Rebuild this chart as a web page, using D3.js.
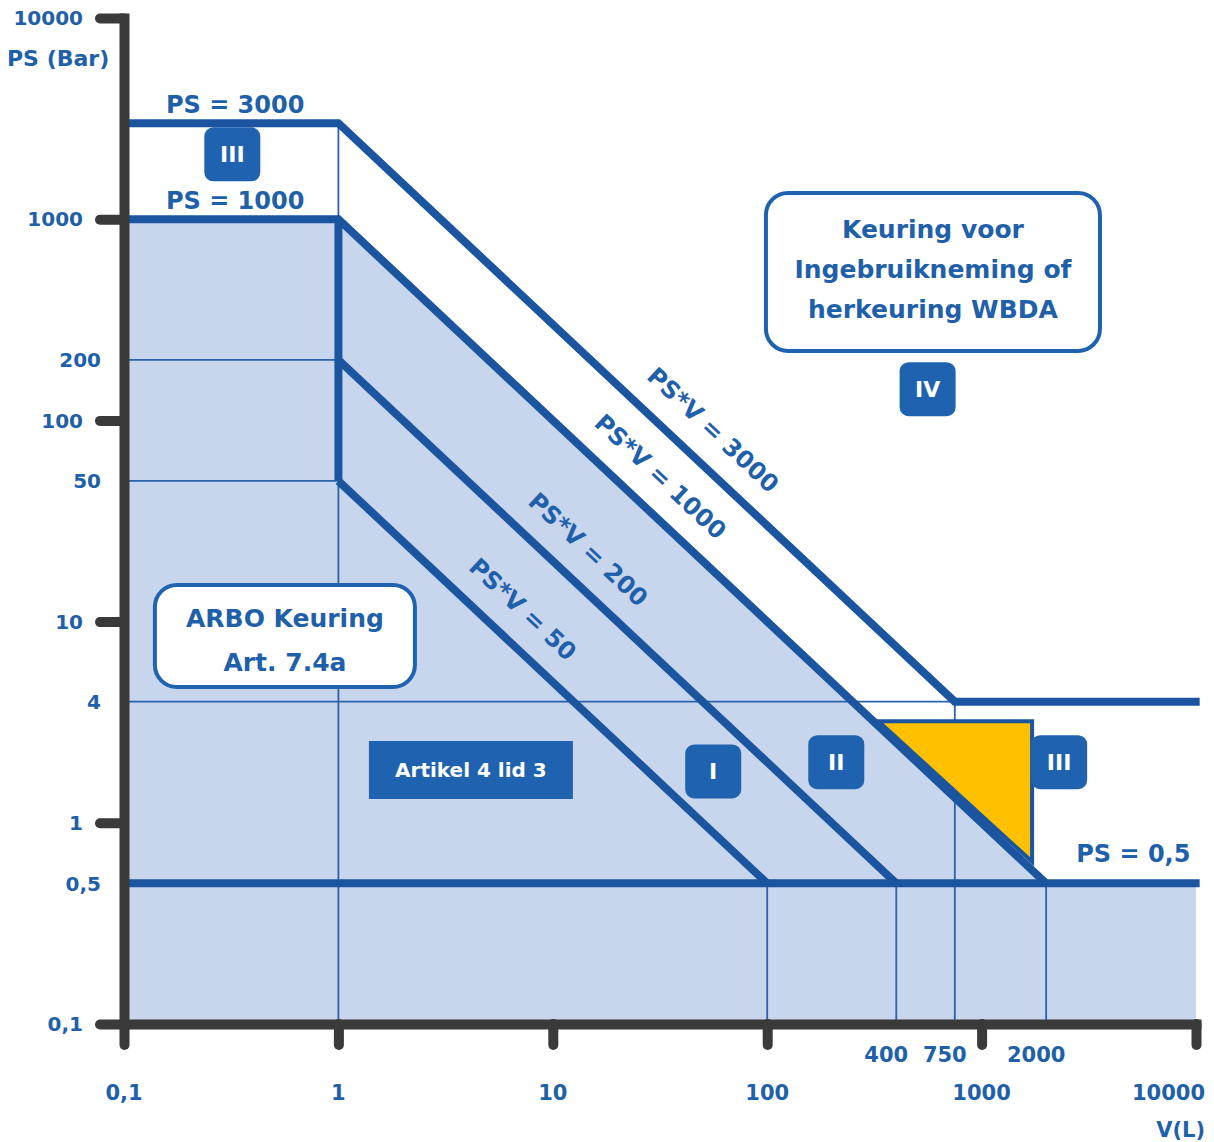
<!DOCTYPE html>
<html>
<head>
<meta charset="utf-8">
<script src="https://cdn.jsdelivr.net/npm/d3@7"></script>
<style>
body { margin: 0; background: #fff; }
svg text { font-family: "DejaVu Sans", sans-serif; font-weight: bold; }
</style>
</head>
<body>
<svg id="chart"></svg>
<script>
// Axis ticks and labels
const yDecades = [0.1, 1, 10, 100, 1000, 10000];
const yDecadeLabels = ["0,1", "1", "10", "100", "1000", "10000"];
const yExtraValues = [0.5, 4, 50, 200];
const yExtraLabels = ["0,5", "4", "50", "200"];
const xDecades = [0.1, 1, 10, 100, 1000, 10000];
const xDecadeLabels = ["0,1", "1", "10", "100", "1000", "10000"];
const xExtraValues = [400, 750, 2000];
const xExtraLabels = ["400", "750", "2000"];

// Limit lines
const psCaps = [3000, 1000];            // PS = 3000 / PS = 1000 up to V = 1
const psvProducts = [3000, 1000, 200, 50];
const psvEndPS = [4, 0.5, 0.5, 0.5];    // PS where each PS*V line stops
const psFloor = 0.5;
const psUpper = 4;                      // PS = 4 line right of V = 750
const thinHorizontals = [200, 50];      // thin lines between V = 0.1 and 1
const thinVerticals = [100, 400, 750, 2000];
const psvLabelV = [44, 25, 11.5, 5.7];  // where the PS*V labels sit along their line

// Yellow triangle (V, PS)
const triangleV = [330, 1720, 1720];
const trianglePS = [3.2, 3.2, 0.64];

// Category badges
const zoneNames = ["III", "IV", "I", "II", "III"];
const zoneV = [0.32, 560, 56, 210, 2300];
const zonePS = [2100, 143, 1.8, 2, 2];

const width = 1214, height = 1142;
const lineBlue = "#1b55a0", textBlue = "#1f60aa", boxBlue = "#1f63b0";
const fillBlue = "#c7d5ed", axisGrey = "#3a3a3a";

const svg = d3.select("#chart").attr("width", width).attr("height", height);

const x = d3.scaleLog().domain([0.1, 10000]).range([124, 1196]);
const y = d3.scaleLog().domain([0.1, 10000]).range([1024, 18]);
const line = d3.line().x(d => x(d[0])).y(d => y(d[1]));

const vMin = x.domain()[0], vMax = x.domain()[1], psMin = y.domain()[0];
const vEnd = vMax * 1.04;   // thick lines run a hair past the last tick

// Shaded region below PS = 1000 / PS*V = 1000 / PS = 0.5
const shaded = [
    [vMin, psCaps[1]], [1, psCaps[1]],
    [psvProducts[1] / psFloor, psFloor], [vMax, psFloor],
    [vMax, psMin], [vMin, psMin]
];
svg.append("path").attr("d", line(shaded) + "Z").attr("fill", fillBlue);

// Thin helper lines
const thin = [
    [[1, psCaps[0]], [1, psMin]],
    ...thinHorizontals.map(p => [[vMin, p], [1, p]]),
    [[vMin, psUpper], [psvProducts[0] / psUpper, psUpper]],
    ...thinVerticals.map(v => [[v, v === 750 ? psUpper : psFloor], [v, psMin]])
];
svg.append("g").selectAll("path").data(thin).join("path")
    .attr("d", line).attr("fill", "none")
    .attr("stroke", "#2b63aa").attr("stroke-width", 1.8);

// Yellow triangle
const tri = triangleV.map((v, i) => [v, trianglePS[i]]);
svg.append("path").attr("d", line(tri) + "Z")
    .attr("fill", "#ffc000").attr("stroke", lineBlue)
    .attr("stroke-width", 4).attr("stroke-linejoin", "miter");

// Thick limit lines
const thick = [
    [[vMin, psCaps[0]], [1, psCaps[0]], [psvProducts[0] / psvEndPS[0], psvEndPS[0]], [vEnd, psUpper]],
    [[vMin, psCaps[1]], [1, psCaps[1]], [psvProducts[1] / psvEndPS[1], psvEndPS[1]]],
    [[1, psCaps[1]], [1, psvProducts[3]]],
    [[1, psvProducts[2]], [psvProducts[2] / psvEndPS[2], psvEndPS[2]]],
    [[1, psvProducts[3]], [psvProducts[3] / psvEndPS[3], psvEndPS[3]]],
    [[vMin, psFloor], [vEnd, psFloor]]
];
svg.append("g").selectAll("path").data(thick).join("path")
    .attr("d", line).attr("fill", "none")
    .attr("stroke", lineBlue).attr("stroke-width", 8)
    .attr("stroke-linejoin", "miter").attr("stroke-linecap", "butt");

// Axes
const yAxis = svg.append("g").attr("transform", `translate(${x(vMin)},0)`)
    .call(d3.axisLeft(y).tickValues(yDecades).tickSize(24).tickSizeOuter(0).tickFormat(""));
const xAxis = svg.append("g").attr("transform", `translate(0,${y(psMin)})`)
    .call(d3.axisBottom(x).tickValues(xDecades).tickSize(21).tickSizeOuter(0).tickFormat(""));
[yAxis, xAxis].forEach(ax => {
    ax.select(".domain").attr("stroke", axisGrey).attr("stroke-width", 10).attr("stroke-linecap", "square");
    ax.selectAll(".tick line").attr("stroke", axisGrey).attr("stroke-width", 10).attr("stroke-linecap", "round");
});

// Axis labels
const lab = svg.append("g").attr("fill", textBlue);
lab.selectAll(".yd").data(yDecades).join("text")
    .attr("x", 83).attr("y", d => y(d)).attr("dy", "0.36em")
    .attr("text-anchor", "end").attr("font-size", 20)
    .text((d, i) => yDecadeLabels[i]);
lab.selectAll(".ye").data(yExtraValues).join("text")
    .attr("x", 101).attr("y", d => y(d)).attr("dy", "0.36em")
    .attr("text-anchor", "end").attr("font-size", 20)
    .text((d, i) => yExtraLabels[i]);
lab.append("text").attr("x", 7).attr("y", 66).attr("font-size", 22).text("PS (Bar)");

lab.selectAll(".xd").data(xDecades).join("text")
    .attr("x", (d, i) => i === xDecades.length - 1 ? x(d) + 9 : x(d))
    .attr("y", 1100)
    .attr("text-anchor", (d, i) => i === xDecades.length - 1 ? "end" : "middle")
    .attr("font-size", 21)
    .text((d, i) => xDecadeLabels[i]);
lab.selectAll(".xe").data(xExtraValues).join("text")
    .attr("x", d => x(d) - 10).attr("y", 1062)
    .attr("text-anchor", "middle").attr("font-size", 21)
    .text((d, i) => xExtraLabels[i]);
lab.append("text").attr("x", 1205).attr("y", 1137).attr("text-anchor", "end")
    .attr("font-size", 21).text("V(L)");

// Horizontal line labels
const capLabels = [
    { v: 0.33, ps: psCaps[0], t: "PS = 3000" },
    { v: 0.33, ps: psCaps[1], t: "PS = 1000" },
    { v: 5100, ps: psFloor, t: "PS = 0,5" }
];
lab.selectAll(".cap").data(capLabels).join("text")
    .attr("x", d => x(d.v)).attr("y", (d, i) => y(d.ps) - (i === 2 ? 21 : 10))
    .attr("text-anchor", "middle").attr("font-size", 24)
    .text(d => d.t);

// Diagonal PS*V labels
const angle = Math.atan2(y(1) - y(10), x(10) - x(1));
const off = 33;
lab.selectAll(".psv").data(psvProducts).join("text")
    .attr("transform", (p, i) => {
        const v = psvLabelV[i];
        const px = x(v) + off * Math.sin(angle);
        const py = y(p / v) - off * Math.cos(angle);
        return `translate(${px},${py}) rotate(${angle * 180 / Math.PI})`;
    })
    .attr("text-anchor", "middle").attr("dy", "0.36em").attr("font-size", 24)
    .text(p => `PS*V = ${p}`);

// Info boxes
const keuring = svg.append("g").attr("transform", `translate(${x(593)},${y(547)})`);
keuring.append("rect").attr("x", -167).attr("y", -79).attr("width", 334).attr("height", 158)
    .attr("rx", 22).attr("fill", "#fff").attr("stroke", boxBlue).attr("stroke-width", 4);
keuring.selectAll("text").data(["Keuring voor", "Ingebruikneming of", "herkeuring WBDA"]).join("text")
    .attr("x", 0).attr("y", (d, i) => -43 + i * 40).attr("dy", "0.36em")
    .attr("text-anchor", "middle").attr("font-size", 25).attr("fill", textBlue)
    .text(d => d);

const arbo = svg.append("g").attr("transform", `translate(${x(0.563)},${y(8.48)})`);
arbo.append("rect").attr("x", -130).attr("y", -51).attr("width", 260).attr("height", 102)
    .attr("rx", 22).attr("fill", "#fff").attr("stroke", boxBlue).attr("stroke-width", 4);
arbo.selectAll("text").data(["ARBO Keuring", "Art. 7.4a"]).join("text")
    .attr("x", 0).attr("y", (d, i) => -18 + i * 44).attr("dy", "0.36em")
    .attr("text-anchor", "middle").attr("font-size", 25).attr("fill", textBlue)
    .text(d => d);

const artikel = svg.append("g").attr("transform", `translate(${x(4.15)},${y(1.83)})`);
artikel.append("rect").attr("x", -102).attr("y", -29).attr("width", 204).attr("height", 58)
    .attr("fill", boxBlue);
artikel.append("text").attr("text-anchor", "middle").attr("dy", "0.36em")
    .attr("font-size", 20).attr("fill", "#fff").text("Artikel 4 lid 3");

// Category badges
const badge = svg.append("g").selectAll("g").data(zoneNames).join("g")
    .attr("transform", (d, i) => `translate(${x(zoneV[i])},${y(zonePS[i])})`);
badge.append("rect").attr("x", -28).attr("y", -27).attr("width", 56).attr("height", 54)
    .attr("rx", 9).attr("fill", boxBlue);
badge.append("text").attr("text-anchor", "middle").attr("dy", "0.36em")
    .attr("font-size", 22).attr("fill", "#fff").text(d => d);
</script>
</body>
</html>
